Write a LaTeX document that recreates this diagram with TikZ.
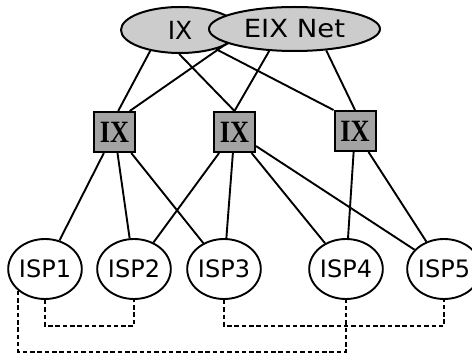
\documentclass[tikz,border=0pt]{standalone}
\usepackage{fontspec}
\usepackage{graphicx}
\setmainfont{DejaVu Sans}
\newfontfamily\boxfont{Liberation Serif}
\usetikzlibrary{shapes.geometric}

\begin{document}
\begin{tikzpicture}[x=1pt,y=-1pt,
  link/.style={line width=1.9pt},
  peerlink/.style={line width=2pt,dash pattern=on 4.5pt off 2.8pt},
  cloud/.style={ellipse,draw,line width=2pt,fill=gray!40,inner sep=0pt,
    font=\fontsize{25}{25}\selectfont},
  exchbox/.style={rectangle,draw,line width=2pt,fill=gray!72,inner sep=0pt,
    minimum width=41pt,minimum height=40pt,
    font=\boxfont\bfseries\fontsize{31}{31}\selectfont},
  isp/.style={ellipse,draw,line width=1.9pt,fill=white,inner sep=0pt,
    minimum width=64pt,minimum height=60pt,
    font=\fontsize{24}{24}\selectfont}
]
\useasboundingbox (0,0) rectangle (472,358);

% top-level exchanges: the IX cloud sits behind the EIX Net cloud
\node[cloud,minimum width=118pt,minimum height=46pt] (topix) at (180,30) {IX};
\node[cloud,minimum width=171pt,minimum height=44pt] (eix) at (294.5,29) {\scalebox{1.1}[1]{EIX Net}};

% regional exchange points
\node[exchbox] (ixa) at (114.5,132) {\scalebox{0.85}[1]{IX}};
\node[exchbox] (ixb) at (234.5,132) {\scalebox{0.85}[1]{IX}};
\node[exchbox] (ixc) at (355,131) {\scalebox{0.85}[1]{IX}};

% providers
\node[isp] (isp1) at (45,269) {ISP1};
\node[isp] (isp2) at (134,269) {ISP2};
\node[isp] (isp3) at (224,269) {ISP3};
\node[isp] (isp4) at (346,269) {ISP4};
\node[isp] (isp5) at (444,269) {ISP5};

% upstream links
\draw[link] (topix.215) -- (ixa.80);
\draw[link] (topix.268) -- (ixb.north);
\draw[link] (topix.332) -- (ixc.north west);
\draw[link] (eix.192) -- (ixa.54);
\draw[link] (eix.221) -- (ixb.north);
\draw[link] (eix.326) -- (ixc.north);

% provider attachments
\draw[link] (ixa) -- (isp1);
\draw[link] (ixa) -- (isp2);
\draw[link] (ixa) -- (isp3);
\draw[link] (ixb) -- (isp2);
\draw[link] (ixb) -- (isp3);
\draw[link] (ixb) -- (isp4);
\draw[link] (ixb) -- (isp5);
\draw[link] (ixc) -- (isp4);
\draw[link] (ixc) -- (isp5);

% private peering
\coordinate (lowrow) at (0,352);
\coordinate (midrow) at (0,326);
\draw[peerlink] (isp1.south west) -- (isp1.south west |- lowrow) -| (isp4.south);
\draw[peerlink] (isp1.south) -- (isp1.south |- midrow) -| (isp2.south);
\draw[peerlink] (isp3.south) -- (isp3.south |- midrow) -| (isp5.south);
\end{tikzpicture}
\end{document}
